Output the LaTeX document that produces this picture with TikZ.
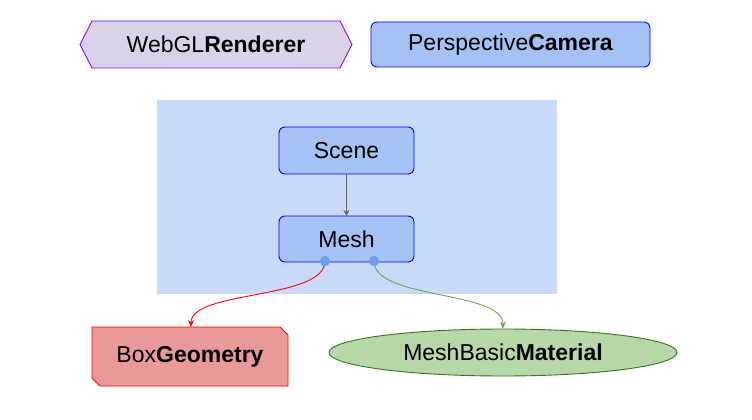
\documentclass[tikz,border=0pt]{standalone}
\usepackage{fontspec}
\setmainfont{Liberation Sans}
\usetikzlibrary{shapes.geometric,arrows.meta}
\definecolor{lavender}{HTML}{D9D2E9}
\definecolor{purpleline}{HTML}{9900FF}
\definecolor{boxblue}{HTML}{A4C2F4}
\definecolor{lineblue}{HTML}{0000FF}
\definecolor{groupblue}{HTML}{C9DAF8}
\definecolor{portblue}{HTML}{6D9EEB}
\definecolor{boxred}{HTML}{EA9999}
\definecolor{linered}{HTML}{FF0000}
\definecolor{boxgreen}{HTML}{B6D7A8}
\definecolor{linegreen}{HTML}{38761D}
\definecolor{edgegreen}{HTML}{6AA84F}
\definecolor{edgegray}{HTML}{666666}
\tikzset{
  lbl/.style={font=\fontsize{23}{26}\selectfont, text=black},
  bluebox/.style={draw=lineblue, fill=boxblue, rounded corners=6pt, line width=0.9pt},
  port/.style={circle, fill=portblue, minimum size=10pt, inner sep=0pt},
  link/.style={line width=0.9pt, -{Stealth[length=7pt,width=6pt]}},
}
\begin{document}
\begin{tikzpicture}[x=1pt,y=-1pt]
\useasboundingbox (0,0) rectangle (752,420);

% renderer (hexagonal tag)
\draw[fill=lavender, draw=purpleline, line width=0.9pt]
  (92,21) -- (340,21) -- (352,44.5) -- (340,68) -- (92,68) -- (80,44.5) -- cycle;
\node[lbl] (renderer) at (216,44.5) {WebGL\textbf{Renderer}};

% camera
\draw[bluebox] (371,22) rectangle (650,67);
\node[lbl] (camera) at (510.5,44.5) {Perspective\textbf{Camera}};

% scene graph group
\fill[groupblue] (157,100) rectangle (557,294);

\draw[bluebox] (279,127) rectangle (414,174);
\node[lbl] (scene) at (346.5,150.5) {Scene};
\coordinate (sceneb) at (346.5,174);

\draw[bluebox] (279,216) rectangle (414,262);
\node[lbl] (mesh) at (346.5,239) {Mesh};
\coordinate (mesht) at (346.5,216);

\draw[edgegray, line width=0.9pt, -{Stealth[length=6pt,width=6pt]}] (sceneb) -- (mesht);

% geometry (clipped corners)
\draw[fill=boxred, draw=linered, line width=0.9pt]
  (92,327) -- (280,327) -- (288,335) -- (288,386) -- (100,386) -- (92,378) -- cycle;
\node[lbl] (geometry) at (190,356.5) {Box\textbf{Geometry}};
\coordinate (geomt) at (191,327);

% material
\node[ellipse, draw=linegreen, fill=boxgreen, line width=0.9pt,
      minimum width=348pt, minimum height=47pt, inner sep=0pt] (matshape) at (503,352.5) {};
\node[lbl] (material) at (503,352.5) {MeshBasic\textbf{Material}};

% ports and links
\node[port] (pgeom) at (325,261) {};
\node[port] (pmat) at (374,261) {};
\draw[link, linered] (pgeom.center) .. controls (325,300) and (191,290) .. (geomt);
\draw[link, edgegreen] (pmat.center) .. controls (374,300) and (503,290) .. (matshape.north);
\node[port] at (pgeom) {};
\node[port] at (pmat) {};
\end{tikzpicture}
\end{document}
